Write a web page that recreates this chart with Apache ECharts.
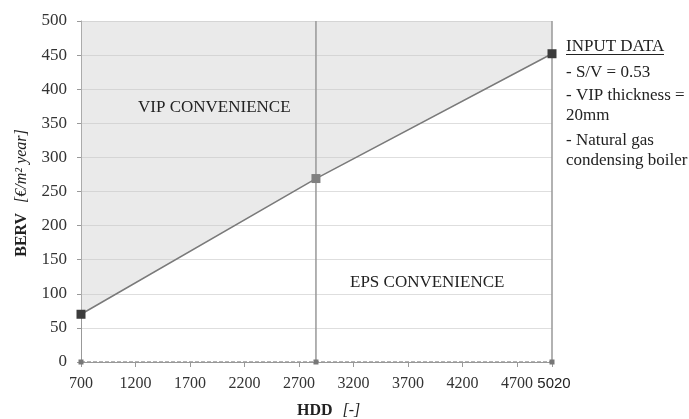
<!DOCTYPE html>
<html><head><meta charset="utf-8">
<script src="https://cdn.jsdelivr.net/npm/echarts@6/dist/echarts.min.js"></script>
<style>html,body{margin:0;padding:0;background:#fff}#c{width:689px;height:419px}</style>
</head><body><div id="c"></div>
<script>
const hdd = [700, 2855, 5020];
const berv = [70, 269, 452];
const xTicks = [700, 1200, 1700, 2200, 2700, 3200, 3700, 4200, 4700, 5020];
const yMin = 0, yMax = 500, yStep = 50;
const vLines = [2855, 5020];
const infoTitle = 'INPUT DATA';
const infoLines = ['- S/V = 0.53', '- VIP thickness =', '20mm', '- Natural gas', 'condensing boiler'];
const regionLabels = ['VIP CONVENIENCE', 'EPS CONVENIENCE'];

const serif = '"Liberation Serif", "Times New Roman", serif';
const sans = '"Liberation Sans", Arial, sans-serif';
const chart = echarts.init(document.getElementById('c'));
const linePts = hdd.map((x, i) => [x, berv[i]]);
const txt = (x, y, text, size) => ({ type: 'text', x, y, z: 100,
  style: { text, font: size + 'px ' + serif, fill: '#222', textVerticalAlign: 'middle' } });

chart.setOption({
  animation: false,
  grid: { left: 81, right: 137, top: 21, bottom: 57 },
  xAxis: {
    type: 'value', min: hdd[0], max: hdd[hdd.length - 1],
    axisLine: { lineStyle: { color: '#999' } },
    axisTick: { show: true, customValues: xTicks, length: 5, lineStyle: { color: '#999' } },
    axisLabel: {
      customValues: xTicks, margin: 14, color: '#333', fontFamily: serif, fontSize: 16,
      formatter: v => v === 5020 ? '{s|5020}' : String(v),
      rich: { s: { fontFamily: sans, fontSize: 15, color: '#222', padding: [0, 0, 0, 4] } }
    },
    splitLine: { show: false }
  },
  yAxis: {
    type: 'value', min: yMin, max: yMax, interval: yStep,
    axisLine: { show: true, lineStyle: { color: '#999' } },
    axisTick: { show: true, length: 4, lineStyle: { color: '#999' } },
    axisLabel: { color: '#333', fontFamily: serif, fontSize: 17, margin: 14 },
    splitLine: { lineStyle: { color: '#dedede' } }
  },
  series: [
    { type: 'custom', silent: true, z: 1, data: [0],
      renderItem: (params, api) => {
        const pts = [api.coord([hdd[0], yMax])];
        hdd.forEach((x, i) => pts.push(api.coord([x, berv[i]])));
        pts.push(api.coord([hdd[hdd.length - 1], yMax]));
        return { type: 'polygon', shape: { points: pts }, style: { fill: 'rgba(200,200,200,0.38)' } };
      } },
    { type: 'line', data: [[vLines[0], yMin], [vLines[0], yMax]], symbol: 'none',
      lineStyle: { color: '#999', width: 1.5 }, z: 2 },
    { type: 'line', data: [[vLines[1], yMin], [vLines[1], yMax]], symbol: 'none',
      lineStyle: { color: '#999', width: 1.5 }, z: 2 },
    { type: 'line', data: hdd.map(x => [x, 0]), symbol: 'rect', symbolSize: 5,
      itemStyle: { color: '#777' }, lineStyle: { color: '#999', width: 1.5, type: [4, 2] }, z: 3 },
    { type: 'line', data: linePts, symbol: 'rect', symbolSize: 9,
      lineStyle: { color: '#7a7a7a', width: 1.5 },
      itemStyle: { color: p => p.dataIndex === 1 ? '#808080' : '#3c3c3c' }, z: 4 }
  ],
  graphic: [
    txt(138, 108, regionLabels[0], 17),
    txt(350, 283, regionLabels[1], 17),
    txt(566, 47, infoTitle, 17),
    { type: 'line', z: 100, shape: { x1: 566, y1: 54.5, x2: 664, y2: 54.5 }, style: { stroke: '#222', lineWidth: 1 } },
    txt(566, 72.5, infoLines[0], 17),
    txt(566, 96, infoLines[1], 17),
    txt(566, 116, infoLines[2], 17),
    txt(566, 141, infoLines[3], 17),
    txt(566, 161, infoLines[4], 17),
    { type: 'text', x: 297, y: 411, z: 100, style: {
        text: '{b|HDD}   {i|[-]}', textVerticalAlign: 'middle',
        rich: { b: { fontFamily: serif, fontWeight: 'bold', fontSize: 16, fill: '#222' },
                i: { fontFamily: serif, fontStyle: 'italic', fontSize: 16, fill: '#222' } } } },
    { type: 'text', x: 22, y: 193, z: 100, rotation: Math.PI / 2, style: {
        text: '{b|BERV}   {i|[€/m² year]}', textAlign: 'center', textVerticalAlign: 'middle',
        rich: { b: { fontFamily: serif, fontWeight: 'bold', fontSize: 16, fill: '#222' },
                i: { fontFamily: serif, fontStyle: 'italic', fontSize: 16, fill: '#222' } } } }
  ]
});
</script></body></html>
